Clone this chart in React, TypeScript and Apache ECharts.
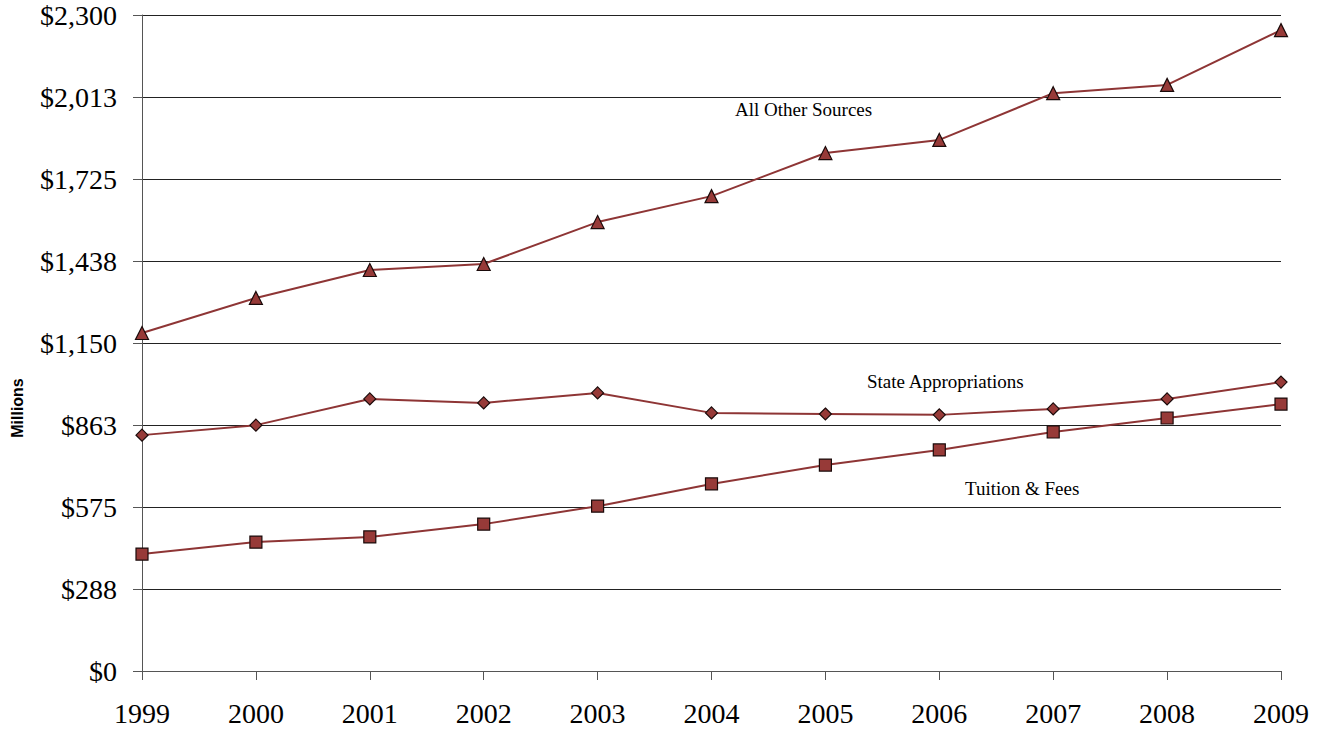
import React, { useEffect, useRef } from "react";
import * as echarts from "echarts";

const years = ["1999", "2000", "2001", "2002", "2003", "2004", "2005", "2006", "2007", "2008", "2009"];
const allOtherSources = [1185, 1308, 1406, 1427, 1574, 1665, 1816, 1862, 2026, 2055, 2247];
const stateAppropriations = [827, 862, 954, 940, 975, 905, 901, 898, 919, 954, 1013];
const tuitionFees = [410, 452, 470, 515, 578, 656, 722, 775, 838, 887, 936];
const yMin = 0;
const yMax = 2300;
const yInterval = 287.5;

function fmt(v: number): string {
  const r = Math.round(v);
  const s = String(r).replace(/\B(?=(\d{3})+(?!\d))/g, ",");
  return "$" + s;
}

export default function App() {
  const ref = useRef<HTMLDivElement>(null);
  useEffect(() => {
    if (!ref.current) return;
    const chart = echarts.init(ref.current, null, { renderer: "svg" });
    const lineColor = "#8e3535";
    const fill = "#973a38";
    const serif = "'Liberation Serif', 'Times New Roman', serif";
    const mk = (name: string, data: number[], symbol: string, size: number) => ({
      name,
      type: "line",
      data,
      symbol,
      symbolSize: size,
      lineStyle: { color: lineColor, width: 2 },
      itemStyle: { color: fill, borderColor: "#1a0a0a", borderWidth: 1.2 },
      z: 3,
    });
    chart.setOption({
      animation: false,
      backgroundColor: "#ffffff",
      grid: { left: 142, right: 43, top: 15, bottom: 60, containLabel: false },
      xAxis: {
        type: "category",
        data: years,
        boundaryGap: false,
        axisLine: { show: true, lineStyle: { color: "#555", width: 1 } },
        axisTick: { show: true, length: 9, lineStyle: { color: "#555" } },
        axisLabel: { color: "#000", fontFamily: serif, fontSize: 28, margin: 28 },
        splitLine: { show: false },
      },
      yAxis: {
        type: "value",
        min: yMin,
        max: yMax,
        interval: yInterval,
        axisLine: { show: true, lineStyle: { color: "#555", width: 1 } },
        axisTick: { show: true, length: 9, lineStyle: { color: "#555" } },
        axisLabel: { color: "#000", fontFamily: serif, fontSize: 28, margin: 25, formatter: fmt },
        splitLine: { show: true, lineStyle: { color: "#222", width: 1 } },
      },
      series: [
        mk("All Other Sources", allOtherSources, "triangle", 13),
        mk("State Appropriations", stateAppropriations, "diamond", 12),
        mk("Tuition & Fees", tuitionFees, "rect", 12),
      ],
      graphic: [
        {
          type: "text",
          x: 17,
          y: 408,
          rotation: Math.PI / 2,
          style: {
            text: "Millions",
            font: "bold 16px 'Liberation Sans', Arial, sans-serif",
            fill: "#000",
            align: "center",
            verticalAlign: "middle",
          },
        },
        { type: "text", left: 735, top: 100, style: { text: "All Other Sources", font: "19px " + serif, fill: "#000" } },
        { type: "text", left: 867, top: 372, style: { text: "State Appropriations", font: "19px " + serif, fill: "#000" } },
        { type: "text", left: 965, top: 479, style: { text: "Tuition & Fees", font: "19px " + serif, fill: "#000" } },
      ],
    });
    return () => chart.dispose();
  }, []);
  return <div ref={ref} style={{ width: 1324, height: 731, position: "absolute", left: 0, top: 0 }} />;
}
